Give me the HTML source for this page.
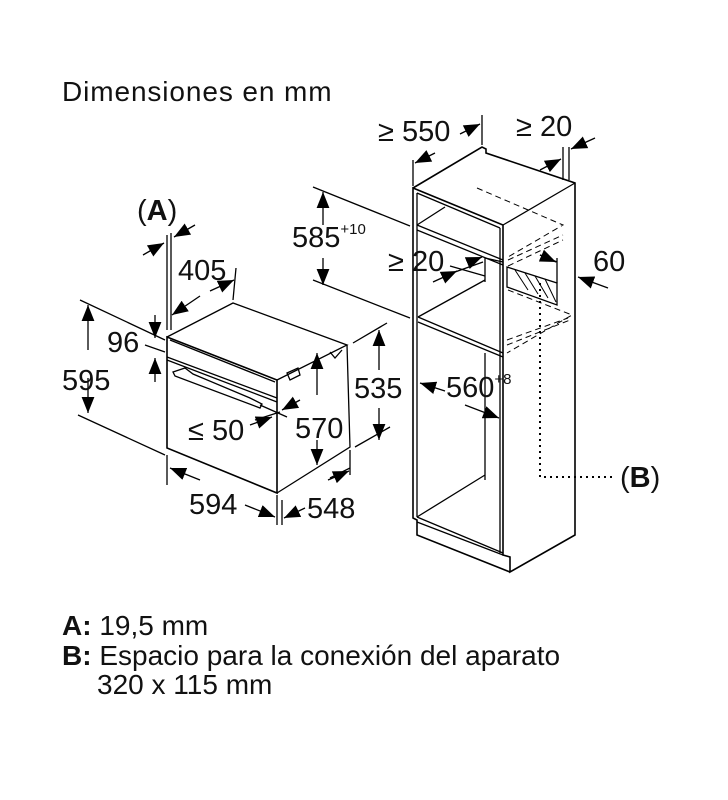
<!DOCTYPE html>
<html><head><meta charset="utf-8"><style>
html,body{margin:0;padding:0;background:#fff;}
svg{display:block}
text{font-family:"Liberation Sans",Arial,sans-serif;fill:#111}
</style></head><body>
<svg width="728" height="800" viewBox="0 0 728 800" xmlns="http://www.w3.org/2000/svg">
<defs>
<marker id="a" viewBox="0 0 10 10" refX="10" refY="5" markerWidth="16" markerHeight="16" markerUnits="userSpaceOnUse" orient="auto"><path d="M0,1 L10,5 L0,9 z" fill="#000"/></marker>
</defs>
<text x="62" y="101" font-size="28" letter-spacing="0.9">Dimensiones en mm</text>

<g stroke="#000" fill="none" stroke-width="1.3">
<path d="M167,337 L277,380 L277,493 L167,448 Z" stroke-width="1.6"/>
<path d="M167,337 L233,303 L347,345 L277,380"/>
<path d="M347,345 L350,447 L277,493"/>
<path d="M170,340 L275,382"/>
<path d="M167,357 L277,398" />
<path d="M167,360 L277,402" />
<path d="M173,372 L185,368 L193,374 L250,398 L262,404 L260,408 L175,376 Z"/>
<path d="M330,352 L335,358 L342,350"/>
<path d="M287,373 L298,368 L300,375 L290,380 Z"/>
<path d="M167,235 L167,330 M171,233 L171,330"/>
<path d="M143,255 L164,243" marker-end="url(#a)"/>
<path d="M195,225 L174,237" marker-end="url(#a)"/>
<path d="M236,268 L233,300"/>
<path d="M210,291 L234,280" marker-end="url(#a)"/>
<path d="M200,296 L172,315" marker-end="url(#a)"/>
<path d="M80,300 L165,340 M78,415 L165,455 M145,345 L165,352"/>
<path d="M88,350 L88,305" marker-end="url(#a)"/>
<path d="M88,378 L88,413" marker-end="url(#a)"/>
<path d="M155,315 L155,338" marker-end="url(#a)"/>
<path d="M155,382 L155,358" marker-end="url(#a)"/>
<path d="M167,455 L167,485 M277,495 L277,525 M282,500 L282,525"/>
<path d="M200,480 L170,468" marker-end="url(#a)"/>
<path d="M245,505 L275,517" marker-end="url(#a)"/>
<path d="M305,508 L284,518" marker-end="url(#a)"/>
<path d="M330,478 L350,468 M350,450 L350,475"/>
<path d="M328,480 L349,471" marker-end="url(#a)"/>
<path d="M260,405 L287,417 M255,420 L280,412"/>
<path d="M300,400 L282,410" marker-end="url(#a)"/>
<path d="M250,425 L272,417" marker-end="url(#a)"/>
<path d="M317,395 L317,353" marker-end="url(#a)"/>
<path d="M317,440 L317,465" marker-end="url(#a)"/>
<path d="M353,343 L387,323 M355,447 L390,427"/>
<path d="M379,370 L379,330" marker-end="url(#a)"/>
<path d="M379,408 L379,440" marker-end="url(#a)"/>

<path d="M413,188 L482,147 L486,149 L486,153 L575,183 L575,535 L510,572 L510,557 L503,555 L503,225 L413,188 L413,518 L417,520 L417,535 L510,572" stroke-width="1.6"/>
<path d="M575,183 L503,225"/>
<path d="M417,193 L417,517 M500,228 L500,553"/>
<path d="M417,193 L500,228"/>
<path d="M417,225 L503,260 M417,230 L503,265 M417,225 L445,207"/>
<path d="M418,317 L503,353 M418,322 L503,357 M418,317 L485,280"/>
<path d="M485,258 L485,282 M485,353 L485,480 M417,517 L485,475 M417,522 L503,555 M417,517 L503,553"/>
<path d="M485,258 L503,262"/>
<path d="M507,267 L557,283 L557,305 L507,287 Z"/>
<path d="M515,270 L528,290 M525,273 L538,294 M535,276 L548,298 M545,279 L556,302" stroke-width="1"/>
<g stroke-dasharray="6,4" stroke-width="1">
<path d="M477,188 L563,225 L508,257 M508,260 L563,235 M508,266 L563,240 M508,290 L572,315 L507,353 M507,345 L570,320 M507,340 L568,318"/>
</g>
<path d="M540,283 L540,477 L612,477" stroke-dasharray="2,4" stroke-width="2"/>
<path d="M413,160 L413,186 M482,115 L482,145"/>
<path d="M435,153 L415,163" marker-end="url(#a)"/>
<path d="M460,134 L480,124" marker-end="url(#a)"/>
<path d="M563,147 L563,180 M569,147 L569,180"/>
<path d="M540,170 L561,159" marker-end="url(#a)"/>
<path d="M595,138 L571,149" marker-end="url(#a)"/>
<path d="M313,187 L410,226 M313,280 L410,318"/>
<path d="M323,225 L323,192" marker-end="url(#a)"/>
<path d="M323,258 L323,285" marker-end="url(#a)"/>
<path d="M450,266 L485,276 M455,272 L483,262"/>
<path d="M433,282 L457,271" marker-end="url(#a)"/>
<path d="M470,262 L482,257" marker-end="url(#a)"/>
<path d="M540,255 L557,262 M557,258 L557,283"/>
<path d="M540,255 L556,262" marker-end="url(#a)"/>
<path d="M608,288 L578,277" marker-end="url(#a)"/>
<path d="M445,391 L420,383" marker-end="url(#a)"/>
<path d="M465,405 L499,418" marker-end="url(#a)"/>
</g>

<g font-size="29">
<text x="137" y="220">(<tspan font-weight="bold">A</tspan>)</text>
<text x="178" y="280">405</text>
<text x="107" y="352">96</text>
<text x="62" y="390">595</text>
<text x="188" y="440">≤ 50</text>
<text x="295" y="438">570</text>
<text x="354" y="398">535</text>
<text x="189" y="514">594</text>
<text x="307" y="518">548</text>
<text x="292" y="247">585<tspan font-size="15" dy="-13">+10</tspan></text>
<text x="378" y="141">≥ 550</text>
<text x="516" y="136">≥ 20</text>
<text x="388" y="271">≥ 20</text>
<text x="593" y="271">60</text>
<text x="446" y="397">560<tspan font-size="15" dy="-13">+8</tspan></text>
<text x="620" y="487">(<tspan font-weight="bold">B</tspan>)</text>
</g>
<g font-size="28">
<text x="62" y="635"><tspan font-weight="bold">A:</tspan> 19,5 mm</text>
<text x="62" y="665"><tspan font-weight="bold">B:</tspan> Espacio para la conexión del aparato</text>
<text x="97" y="694">320 x 115 mm</text>
</g>
</svg>
</body></html>
